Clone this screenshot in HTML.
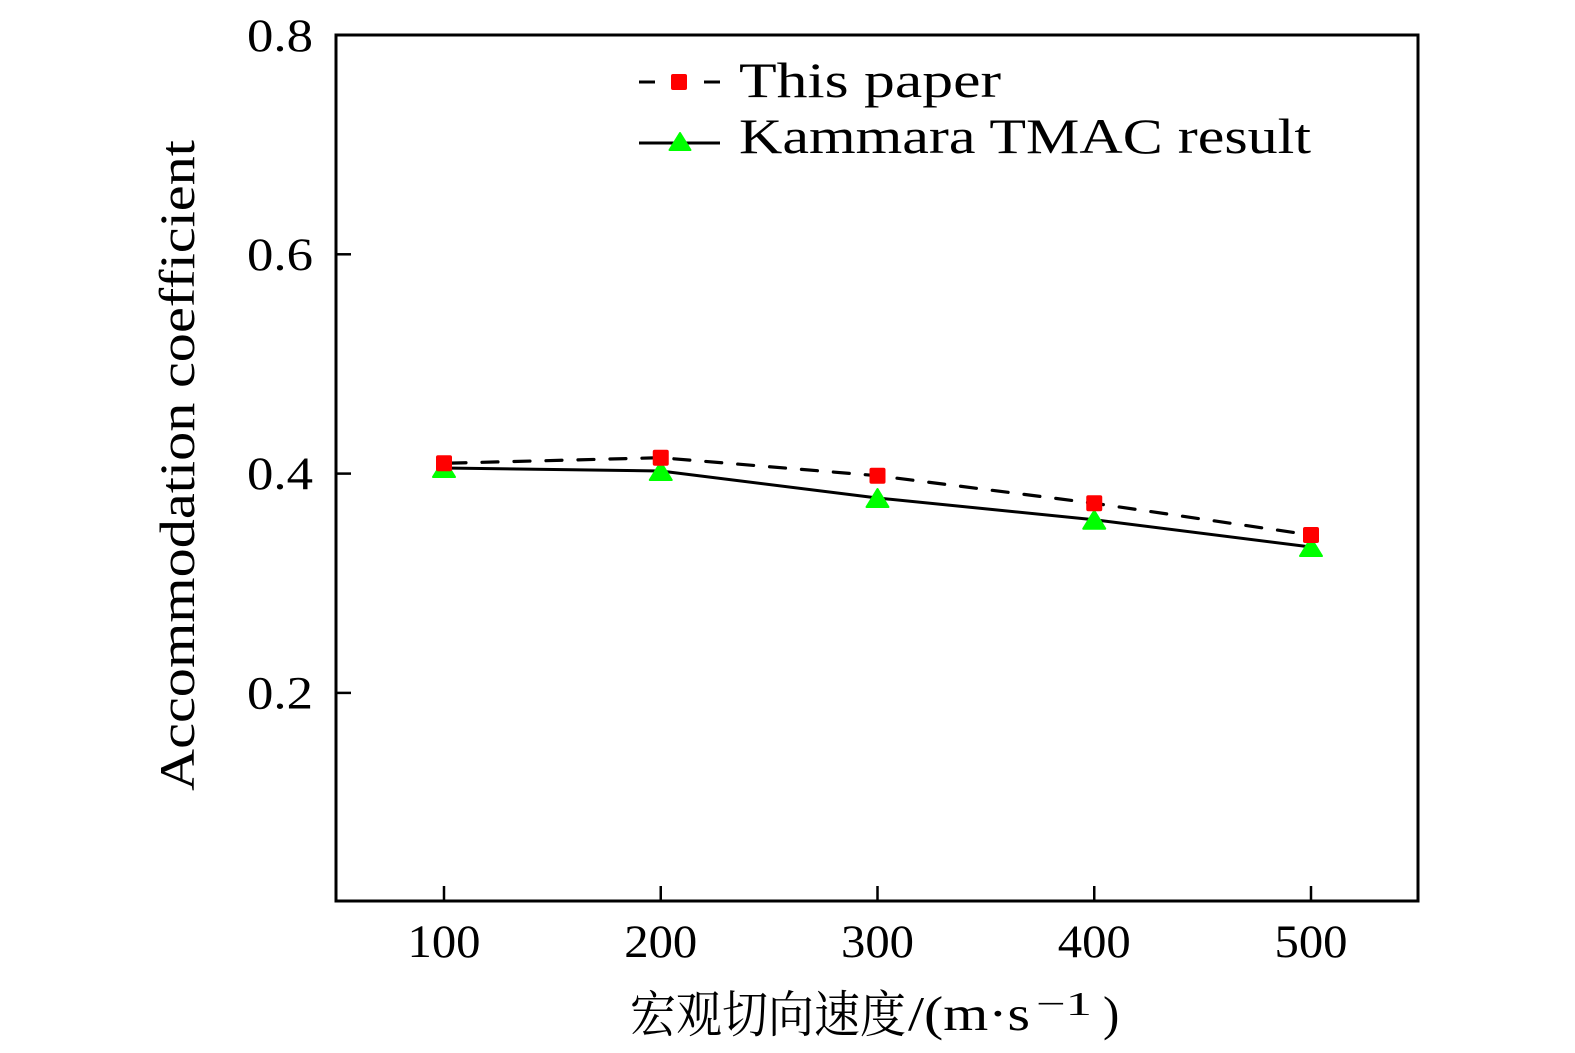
<!DOCTYPE html>
<html>
<head>
<meta charset="utf-8">
<style>
html,body{margin:0;padding:0;background:#fff;}
svg{display:block;}
text{font-family:"Liberation Serif","Noto Serif CJK SC",serif;fill:#000;}
.cjk{font-family:"Liberation Serif","Noto Serif CJK SC","Noto Sans CJK SC",serif;}
</style>
</head>
<body>
<svg width="1575" height="1053" viewBox="0 0 1575 1053" xmlns="http://www.w3.org/2000/svg">
<rect x="0" y="0" width="1575" height="1053" fill="#fff"/>

<!-- frame -->
<rect x="336" y="35" width="1082" height="866" fill="none" stroke="#000" stroke-width="3"/>

<!-- y ticks -->
<g stroke="#000" stroke-width="2.5">
<line x1="336" y1="254.3" x2="351" y2="254.3"/>
<line x1="336" y1="473.6" x2="351" y2="473.6"/>
<line x1="336" y1="692.9" x2="351" y2="692.9"/>
</g>
<!-- x ticks -->
<g stroke="#000" stroke-width="2.5">
<line x1="444" y1="901" x2="444" y2="886"/>
<line x1="660.75" y1="901" x2="660.75" y2="886"/>
<line x1="877.5" y1="901" x2="877.5" y2="886"/>
<line x1="1094.25" y1="901" x2="1094.25" y2="886"/>
<line x1="1311" y1="901" x2="1311" y2="886"/>
</g>

<!-- y tick labels -->
<g font-size="47" text-anchor="end">
<text x="313" y="51" textLength="66" lengthAdjust="spacingAndGlyphs">0.8</text>
<text x="313" y="270" textLength="66" lengthAdjust="spacingAndGlyphs">0.6</text>
<text x="313" y="489" textLength="66" lengthAdjust="spacingAndGlyphs">0.4</text>
<text x="313" y="708.5" textLength="66" lengthAdjust="spacingAndGlyphs">0.2</text>
</g>

<!-- x tick labels -->
<g font-size="47">
<text x="407.5" y="957" textLength="73" lengthAdjust="spacingAndGlyphs">100</text>
<text x="624.25" y="957" textLength="73" lengthAdjust="spacingAndGlyphs">200</text>
<text x="841" y="957" textLength="73" lengthAdjust="spacingAndGlyphs">300</text>
<text x="1057.75" y="957" textLength="73" lengthAdjust="spacingAndGlyphs">400</text>
<text x="1274.5" y="957" textLength="73" lengthAdjust="spacingAndGlyphs">500</text>
</g>

<!-- x axis label -->
<text class="cjk" x="630" y="1032" font-size="50" textLength="276" lengthAdjust="spacingAndGlyphs">宏观切向速度</text>
<text x="908" y="1030" font-size="49" textLength="122" lengthAdjust="spacingAndGlyphs">/(m·s</text>
<text x="1036" y="1015" font-size="34" textLength="56" lengthAdjust="spacingAndGlyphs">−1</text>
<text x="1103" y="1030" font-size="49">)</text>

<!-- y axis label -->
<text transform="translate(194,465.5) rotate(-90)" x="0" y="0" font-size="50" text-anchor="middle" textLength="651" lengthAdjust="spacingAndGlyphs">Accommodation coefficient</text>

<!-- series lines -->
<polyline points="444,468 660.75,471 877.5,498 1094.25,519.7 1311,547" fill="none" stroke="#000" stroke-width="3" stroke-linejoin="round"/>
<polyline points="444,463.3 660.75,457.7 877.5,475.7 1094.25,503.3 1311,535" fill="none" stroke="#000" stroke-width="3.2" stroke-dasharray="16 16" stroke-dashoffset="-6" stroke-linecap="round"/>

<!-- triangles -->
<g fill="#00ff00" stroke="#00ff00" stroke-width="2" stroke-linejoin="round">
<polygon points="433,477 444,459 455,477"/>
<polygon points="649.75,480 660.75,462 671.75,480"/>
<polygon points="866.5,507 877.5,489 888.5,507"/>
<polygon points="1083.25,528.7 1094.25,510.7 1105.25,528.7"/>
<polygon points="1300,556 1311,538 1322,556"/>
</g>
<!-- squares -->
<g fill="#ff0000">
<rect x="436" y="455.3" width="16" height="16" rx="2"/>
<rect x="652.75" y="449.7" width="16" height="16" rx="2"/>
<rect x="869.5" y="467.7" width="16" height="16" rx="2"/>
<rect x="1086.25" y="495.3" width="16" height="16" rx="2"/>
<rect x="1303" y="527" width="16" height="16" rx="2"/>
</g>

<!-- legend -->
<g stroke="#000" stroke-width="3">
<line x1="639" y1="82" x2="655" y2="82"/>
<line x1="704" y1="82" x2="720" y2="82"/>
<line x1="639" y1="143" x2="720" y2="143"/>
</g>
<rect x="671" y="74" width="16" height="16" rx="2" fill="#ff0000"/>
<polygon points="669.5,150 680,133 690.5,150" fill="#00ff00" stroke="#00ff00" stroke-width="2" stroke-linejoin="round"/>
<text x="739" y="97" font-size="50" textLength="262" lengthAdjust="spacingAndGlyphs">This paper</text>
<text x="739" y="153" font-size="50" textLength="572" lengthAdjust="spacingAndGlyphs">Kammara TMAC result</text>
</svg>
</body>
</html>
